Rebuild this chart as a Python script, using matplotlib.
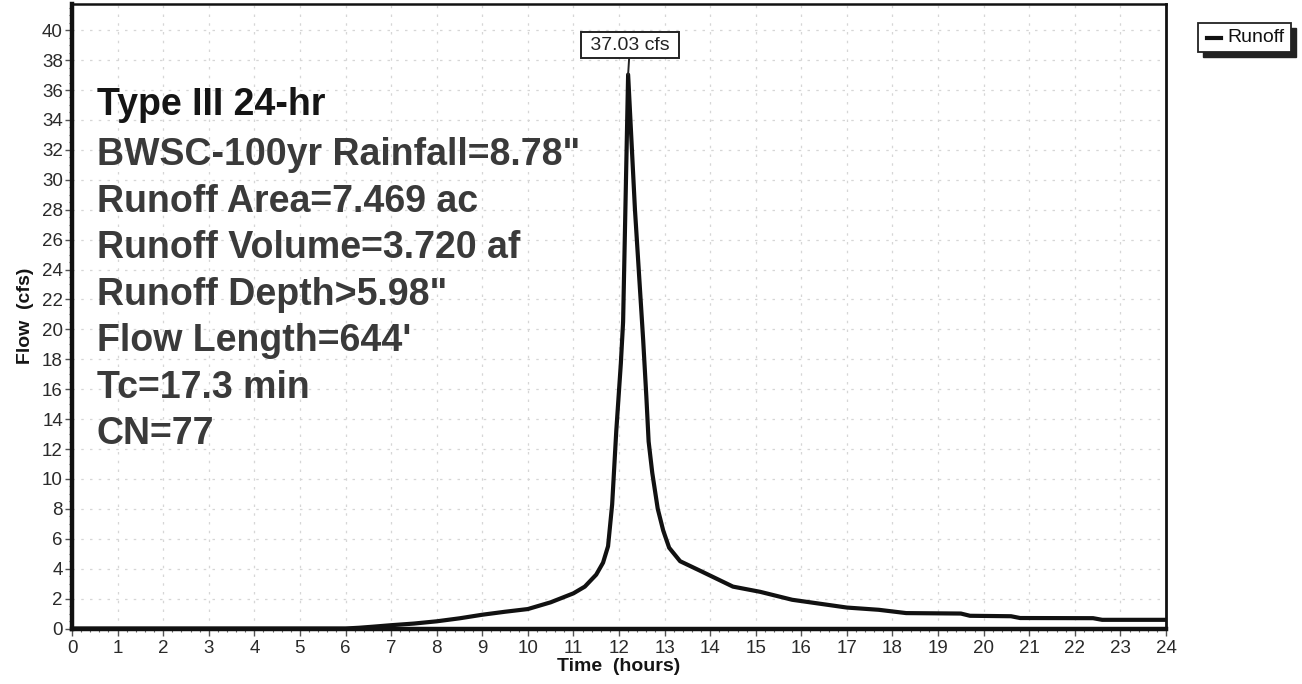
import matplotlib
matplotlib.use("Agg")
import matplotlib.pyplot as plt
from matplotlib.ticker import MultipleLocator
from matplotlib.patches import Rectangle
from matplotlib.lines import Line2D

time_hr = [0.0, 6.0, 6.3, 6.6, 7.0, 7.5, 8.0, 8.5, 9.0, 9.5, 10.0, 10.5, 11.0,
           11.25, 11.5, 11.65, 11.76, 11.85, 11.94, 12.04, 12.09, 12.2,
           12.35, 12.53, 12.6, 12.65, 12.73, 12.85, 12.97, 13.1, 13.34, 13.78,
           14.5, 15.1, 15.8, 17.0, 17.7, 18.3, 19.5, 19.7, 20.6, 20.8, 22.4,
           22.6, 24.0]
flow_cfs = [0.0, 0.0, 0.05, 0.12, 0.22, 0.33, 0.48, 0.68, 0.92, 1.12, 1.3, 1.75, 2.35,
            2.8, 3.6, 4.4, 5.5, 8.3, 13.2, 17.7, 20.5, 37.03,
            28.0, 19.3, 15.5, 12.5, 10.4, 8.0, 6.55, 5.4, 4.5, 3.86,
            2.8, 2.45, 1.92, 1.40, 1.25, 1.03, 1.0, 0.85, 0.82, 0.7, 0.69,
            0.58, 0.58]
peak_time = 12.2
peak_flow = 37.03
peak_label = "37.03 cfs"
series_name = "Runoff"
x_ticks = list(range(0, 25))
y_ticks = list(range(0, 41, 2))
info_lines = ["Type III 24-hr",
              'BWSC-100yr Rainfall=8.78"',
              "Runoff Area=7.469 ac",
              "Runoff Volume=3.720 af",
              'Runoff Depth>5.98"',
              "Flow Length=644'",
              "Tc=17.3 min",
              "CN=77"]

plt.rcParams['font.family'] = ['Liberation Sans', 'DejaVu Sans']

W, H = 1302, 684
fig = plt.figure(figsize=(W / 100, H / 100), dpi=100)
ax = fig.add_axes([72 / W, (H - 628.5) / H, (1166 - 72) / W, (628.5 - 4) / H])

ax.plot(time_hr, flow_cfs, color="#111111", lw=3.0, solid_joinstyle="round",
        zorder=3)

ax.set_xlim(0, 24)
ax.set_ylim(0, 41.75)
ax.set_xticks(x_ticks)
ax.set_yticks(y_ticks)
ax.xaxis.set_minor_locator(MultipleLocator(0.2))
ax.yaxis.set_minor_locator(MultipleLocator(0.5))
ax.tick_params(axis="both", which="major", direction="out", length=5, width=1,
               labelsize=13.5, color="#555555", labelcolor="#2a2a2a", pad=1.5)
ax.tick_params(axis="x", which="major", pad=3)
ax.tick_params(axis="both", which="minor", direction="out", length=2.5,
               width=0.8, color="#666666")
ax.grid(True, which="major", color="#d6d6d6", linestyle=(0, (2, 5)), lw=0.9,
        zorder=0)

for side, lw in [("left", 3.2), ("bottom", 3.2), ("top", 1.8), ("right", 2.0)]:
    ax.spines[side].set_linewidth(lw)
    ax.spines[side].set_color("#111111")

ax.set_xlabel("Time  (hours)", fontsize=14, fontweight="bold", labelpad=1,
              color="#151515")
ax.set_ylabel("Flow  (cfs)", fontsize=14, fontweight="bold", labelpad=6,
              color="#151515")

# info text block
y0 = 0.838
for i, line in enumerate(info_lines):
    y = y0 if i == 0 else y0 - 0.08 - (i - 1) * 0.0745
    ax.text(0.0225, y, line, transform=ax.transAxes, fontsize=27,
            fontweight="bold", color="#151515" if i == 0 else "#3a3a3a",
            va="center", ha="left", zorder=4)

# peak annotation
ax.annotate(" " + peak_label + " ", xy=(peak_time, peak_flow),
            xytext=(peak_time + 0.04, 39.0), textcoords="data",
            ha="center", va="center", fontsize=14, color="#222222",
            bbox=dict(boxstyle="square,pad=0.22", fc="white", ec="#222222",
                      lw=1.4),
            arrowprops=dict(arrowstyle="-", color="#222222", lw=1.4,
                            shrinkA=0, shrinkB=0),
            zorder=5)

# legend box outside at top-right with shadow
lx0, ly0, lw_, lh_ = 1198 / W, (H - 52) / H, 93 / W, 29 / H
fig.patches.append(Rectangle((lx0 + 5 / W, ly0 - 5 / H), lw_, lh_,
                             transform=fig.transFigure, fc="#222222",
                             ec="#222222", zorder=1))
fig.patches.append(Rectangle((lx0, ly0), lw_, lh_, transform=fig.transFigure,
                             fc="white", ec="#222222", lw=1.3, zorder=2))
fig.lines.append(Line2D([1207 / W, 1221 / W], [ly0 + lh_ / 2] * 2,
                        transform=fig.transFigure, color="#111111", lw=3,
                        zorder=3))
fig.text(1227 / W, ly0 + lh_ / 2, series_name, fontsize=14, va="center",
         ha="left", color="#111111", zorder=3)

fig.savefig("out.png", dpi=100, facecolor="white")
